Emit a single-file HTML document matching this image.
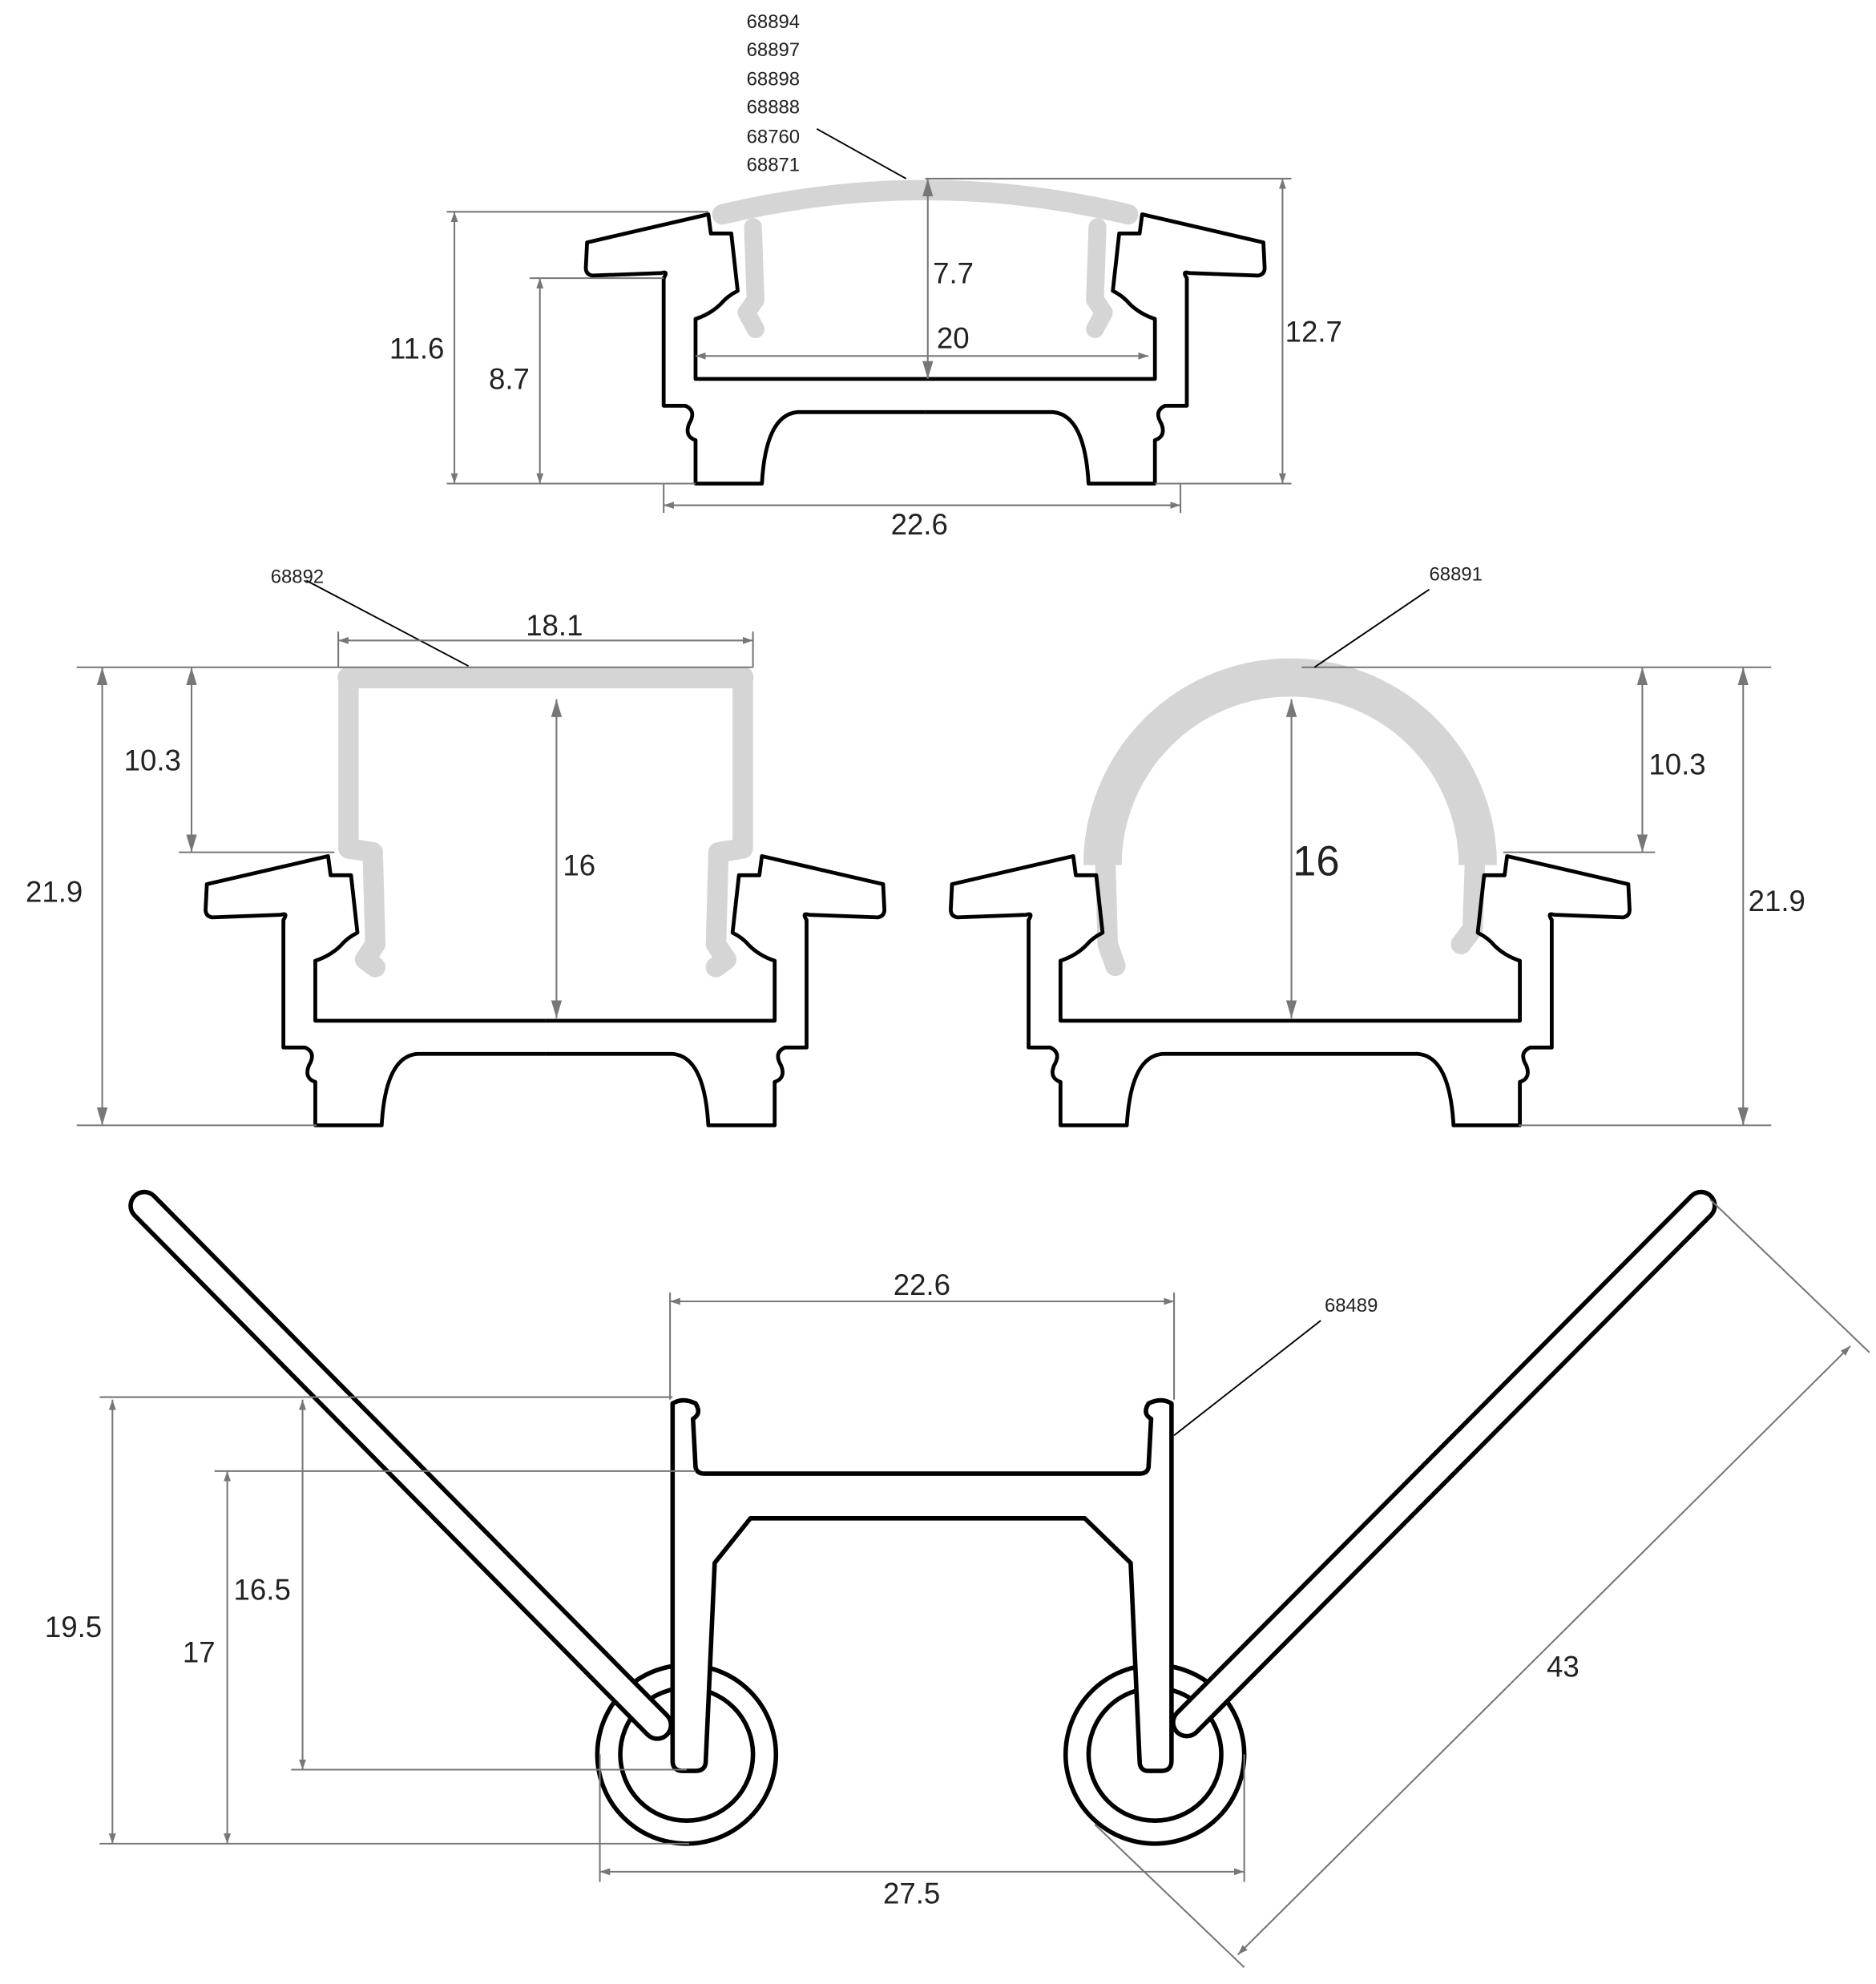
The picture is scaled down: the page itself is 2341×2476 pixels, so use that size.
<!DOCTYPE html>
<html><head><meta charset="utf-8"><style>html,body{margin:0;padding:0;background:#fff}svg{display:block}</style></head>
<body>
<svg width="2341" height="2476" viewBox="0 0 1470 1555" xmlns="http://www.w3.org/2000/svg" font-family="Liberation Sans, sans-serif">
<defs>
<marker id="a" viewBox="0 0 10 10" refX="10" refY="5" markerWidth="8" markerHeight="8" orient="auto-start-reverse" markerUnits="userSpaceOnUse"><path d="M0,1.5 L10,5 L0,8.5 Z" fill="#777"/></marker>
<marker id="b" viewBox="0 0 10 10" refX="10" refY="5" markerWidth="14" markerHeight="14" orient="auto-start-reverse" markerUnits="userSpaceOnUse"><path d="M0,2 L10,5 L0,8 Z" fill="#777"/></marker>
<g id="half">
<path d="M725,323 L625,323 Q600,325 597,379 L545,379 L545,345 Q536,342 540,332 Q546,322 537,318 L520,318 L520,218 Q524,212 518,214 L464,216 Q459,215 459,210 L460,190 L555,168 L557,183 L573,183 L578,228 Q570,232 565,238 Q557,246 545,250 L545,297 L725,297" fill="none" stroke="#000" stroke-width="3" stroke-linejoin="round"/>
</g>
<g id="prof"><use href="#half"/><use href="#half" transform="translate(1450,0) scale(-1,1)"/></g>
</defs>

<!-- top -->
<g fill="none" stroke="#d5d5d5" stroke-linecap="round" stroke-linejoin="round">
<path d="M566,168 Q725,130 884,168" stroke-width="16"/>
<path d="M590,178 L592,235 L585,245 L592,258" stroke-width="14"/>
<path d="M860,178 L858,235 L865,245 L858,258" stroke-width="14"/>
</g>
<use href="#prof"/>

<!-- middle left -->
<g fill="none" stroke="#d5d5d5" stroke-linejoin="round" stroke-linecap="round">
<path d="M273,531 L582,531" stroke-width="17"/>
<path d="M273,531 L273,665 L292,668 L294,740 L286,752 L294,758" stroke-width="16"/>
<path d="M582,531 L582,665 L563,668 L561,740 L569,752 L561,758" stroke-width="16"/>
</g>
<use href="#prof" transform="translate(-298,503)"/>

<!-- middle right -->
<g fill="none" stroke="#d5d5d5" stroke-linejoin="round" stroke-linecap="round">
<path d="M864,678 A147,147 0 0 1 1158,678" stroke-width="30" stroke-linecap="butt"/>
<path d="M866,670 L868,740 L874,757" stroke-width="16"/>
<path d="M1156,670 L1154,728 L1145,740" stroke-width="16"/>
</g>
<use href="#prof" transform="translate(286,503)"/>

<!-- bottom -->
<g fill="none" stroke="#000" stroke-width="3.5">
<circle cx="538" cy="1375" r="70"/><circle cx="538" cy="1375" r="52"/>
<circle cx="905" cy="1375" r="70"/><circle cx="905" cy="1375" r="52"/>
</g>
<g stroke-linecap="round">
<line x1="113" y1="945" x2="515" y2="1352" stroke="#000" stroke-width="25"/>
<line x1="113" y1="945" x2="515" y2="1352" stroke="#fff" stroke-width="18"/>
<line x1="1333" y1="945" x2="930" y2="1350" stroke="#000" stroke-width="25"/>
<line x1="1333" y1="945" x2="930" y2="1350" stroke="#fff" stroke-width="18"/>
</g>
<path d="M527,1380 L527,1100 Q535,1095 545,1100 Q550,1108 543,1112 L545,1150 Q546,1155 552,1155 L893,1155 Q899,1155 900,1150 L902,1112 Q895,1108 900,1100 Q910,1095 918,1100 L918,1380 Q918,1388 910,1388 L900,1388 Q893,1388 893,1380 L886,1225 L850,1190 L588,1190 L560,1225 L553,1380 Q553,1388 545,1388 L535,1388 Q527,1388 527,1380 Z" fill="#fff" stroke="#000" stroke-width="3.5" stroke-linejoin="round"/>

<!-- ext / leader lines -->
<g stroke="#777" stroke-width="1.3" fill="none">
<line x1="350" y1="166" x2="555" y2="166"/><line x1="350" y1="379" x2="545" y2="379"/>
<line x1="415" y1="218" x2="520" y2="218"/>
<line x1="725" y1="140" x2="1012" y2="140"/><line x1="905" y1="379" x2="1012" y2="379"/>
<line x1="520" y1="379" x2="520" y2="402"/><line x1="925" y1="379" x2="925" y2="402"/>
<line x1="265" y1="495" x2="265" y2="523"/><line x1="590" y1="495" x2="590" y2="523"/>
<line x1="60" y1="523" x2="590" y2="523"/><line x1="60" y1="882" x2="248" y2="882"/>
<line x1="140" y1="668" x2="262" y2="668"/>
<line x1="1020" y1="523" x2="1388" y2="523"/><line x1="1190" y1="882" x2="1388" y2="882"/>
<line x1="1178" y1="668" x2="1297" y2="668"/>
<line x1="525" y1="1013" x2="525" y2="1097"/><line x1="920" y1="1013" x2="920" y2="1097"/>
<line x1="78" y1="1095" x2="527" y2="1095"/><line x1="78" y1="1445" x2="540" y2="1445"/>
<line x1="228" y1="1387" x2="538" y2="1387"/><line x1="168" y1="1153" x2="545" y2="1153"/>
<line x1="470" y1="1375" x2="470" y2="1475"/><line x1="975" y1="1375" x2="975" y2="1475"/>
<line x1="1340" y1="940" x2="1465" y2="1060"/><line x1="858" y1="1430" x2="975" y2="1542"/>
<g stroke="#000" stroke-width="1.2">
<line x1="640" y1="101" x2="710" y2="140"/>
<line x1="240" y1="455" x2="367" y2="522"/>
<line x1="1030" y1="523" x2="1120" y2="462"/>
<line x1="920" y1="1125" x2="1035" y2="1035"/>
</g>
</g>

<!-- dims -->
<g stroke="#777" stroke-width="1.3" marker-start="url(#a)" marker-end="url(#a)">
<line x1="356" y1="166" x2="356" y2="379"/>
<line x1="423" y1="218" x2="423" y2="379"/>
<line x1="1005" y1="140" x2="1005" y2="379"/>
<line x1="727" y1="140" x2="727" y2="297" marker-start="url(#b)" marker-end="url(#b)"/>
<line x1="545" y1="279" x2="900" y2="279"/>
<line x1="520" y1="396" x2="925" y2="396"/>
<line x1="265" y1="502" x2="590" y2="502"/>
<line x1="80" y1="523" x2="80" y2="882" marker-start="url(#b)" marker-end="url(#b)"/>
<line x1="150" y1="523" x2="150" y2="668" marker-start="url(#b)" marker-end="url(#b)"/>
<line x1="436" y1="548" x2="436" y2="798" marker-start="url(#b)" marker-end="url(#b)"/>
<line x1="1287" y1="523" x2="1287" y2="668" marker-start="url(#b)" marker-end="url(#b)"/>
<line x1="1366" y1="523" x2="1366" y2="882" marker-start="url(#b)" marker-end="url(#b)"/>
<line x1="1012" y1="548" x2="1012" y2="798" marker-start="url(#b)" marker-end="url(#b)"/>
<line x1="525" y1="1020" x2="920" y2="1020"/>
<line x1="88" y1="1097" x2="88" y2="1445"/>
<line x1="237" y1="1097" x2="237" y2="1387"/>
<line x1="178" y1="1153" x2="178" y2="1445"/>
<line x1="470" y1="1467" x2="975" y2="1467"/>
<line x1="1450" y1="1055" x2="970" y2="1532"/>
</g>

<g fill="#222" font-size="23">
<text x="305" y="281">11.6</text>
<text x="383" y="305">8.7</text>
<text x="1007" y="268">12.7</text>
<text x="731" y="222">7.7</text>
<text x="734" y="273">20</text>
<text x="698" y="419">22.6</text>
<text x="412" y="498">18.1</text>
<text x="20" y="707">21.9</text>
<text x="97" y="604">10.3</text>
<text x="441" y="686">16</text>
<text x="1292" y="607">10.3</text>
<text x="1370" y="714">21.9</text>
<text x="1013" y="686" font-size="33">16</text>
<text x="700" y="1015">22.6</text>
<text x="35" y="1283">19.5</text>
<text x="183" y="1254">16.5</text>
<text x="143" y="1303">17</text>
<text x="692" y="1492">27.5</text>
<text x="1212" y="1314">43</text>
</g>
<g fill="#222" font-size="15">
<text x="585" y="22">68894</text>
<text x="585" y="44">68897</text>
<text x="585" y="67">68898</text>
<text x="585" y="89">68888</text>
<text x="585" y="112">68760</text>
<text x="585" y="134">68871</text>
<text x="212" y="457">68892</text>
<text x="1120" y="455">68891</text>
<text x="1038" y="1028">68489</text>
</g>
</svg>
</body></html>
